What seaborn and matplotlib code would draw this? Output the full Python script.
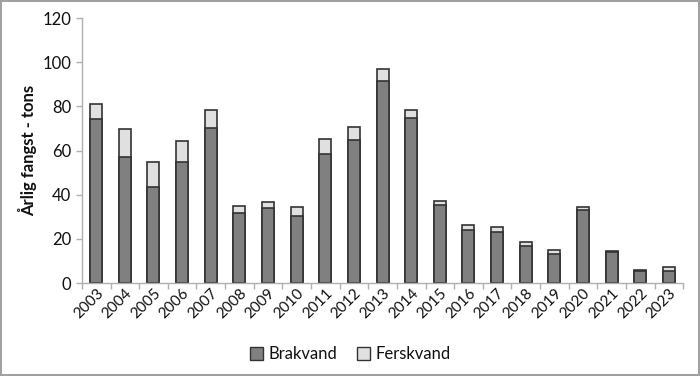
import seaborn as sns
import pandas as pd
import matplotlib.pyplot as plt
from matplotlib.patches import Patch

# data
years = [str(y) for y in range(2003, 2024)]
brakvand = [74.2, 57.1, 43.4, 54.8, 70.2, 31.6, 33.9, 30.6, 58.4, 64.8, 91.4,
            74.7, 35.2, 24.2, 23.2, 16.9, 13.3, 33.1, 14.2, 5.7, 5.6]
ferskvand = [6.8, 12.5, 11.6, 9.7, 8.1, 3.5, 2.7, 4.0, 6.7, 5.8, 5.7,
             3.5, 2.1, 2.0, 2.0, 1.8, 1.8, 1.2, 0.4, 0.2, 1.6]

df = pd.DataFrame({'year': years, 'Brakvand': brakvand, 'Ferskvand': ferskvand})
df['total'] = df['Brakvand'] + df['Ferskvand']

sns.set_style('white')
plt.rcParams['font.family'] = ['Lato', 'DejaVu Sans']

dark = '#808080'
light = '#e0e0e0'
edge = '#333333'

fig, ax = plt.subplots(figsize=(7, 3.76), dpi=100)
fig.subplots_adjust(left=0.117, right=0.976, bottom=0.247, top=0.952)
fig.patch.set_edgecolor('#a0a0a0')
fig.patch.set_linewidth(1.5)

# stacked bars: draw the total (light) first, then brakvand over it
sns.barplot(data=df, x='year', y='total', color=light, saturation=1,
            width=0.42, edgecolor=edge, linewidth=1.2, ax=ax)
sns.barplot(data=df, x='year', y='Brakvand', color=dark, saturation=1,
            width=0.42, edgecolor=edge, linewidth=1.2, ax=ax)

ax.set_ylim(0, 120)
ax.set_yticks(range(0, 121, 20))
ax.set_xlim(-0.5, len(years) - 0.5)
ax.set_xlabel('')
ax.set_ylabel('Årlig fangst - tons', fontsize=12, fontweight='bold', color='#111111')

for s in ['top', 'right']:
    ax.spines[s].set_visible(False)
for s in ['left', 'bottom']:
    ax.spines[s].set_color('#b0b0b0')
    ax.spines[s].set_linewidth(1)

ax.tick_params(axis='y', labelsize=12, length=4, color='#b0b0b0', left=True, width=1,
               labelcolor='#111111')
ax.tick_params(axis='x', which='major', labelsize=11, length=0, pad=2, labelcolor='#111111')
ax.set_xticks([i - 0.5 for i in range(len(years) + 1)], minor=True)
ax.tick_params(axis='x', which='minor', length=4, color='#b0b0b0', bottom=True, width=1)
plt.setp(ax.get_xticklabels(), rotation=45, ha='right', rotation_mode='anchor')

handles = [Patch(facecolor=dark, edgecolor=edge, label='Brakvand'),
           Patch(facecolor=light, edgecolor=edge, label='Ferskvand')]
fig.legend(handles=handles, loc='center', bbox_to_anchor=(0.5, 0.058), ncol=2,
           frameon=False, fontsize=12, handlelength=0.8, handleheight=0.8,
           handletextpad=0.3, columnspacing=1.2, labelcolor='#111111')

fig.savefig('out.png', dpi=100)
